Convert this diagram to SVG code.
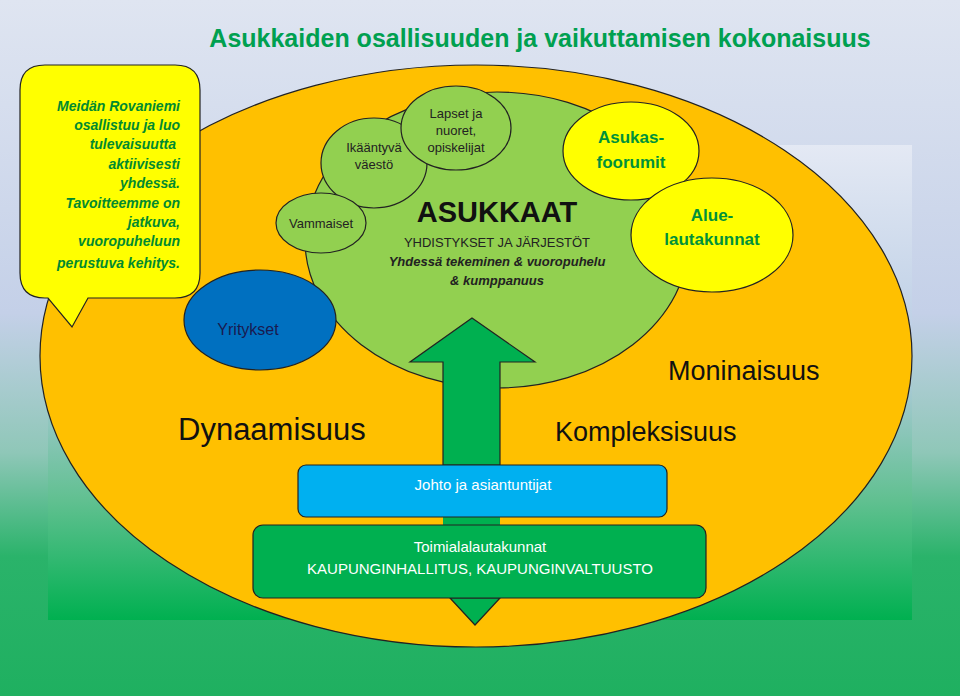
<svg xmlns="http://www.w3.org/2000/svg" width="960" height="696" viewBox="0 0 960 696">
<defs>
<linearGradient id="bg" x1="0" y1="0" x2="0" y2="1"><stop offset="0" stop-color="#dfe5f1"/><stop offset="0.45" stop-color="#c4d0e8"/><stop offset="0.65" stop-color="#8fc7b8"/><stop offset="0.8" stop-color="#2ab36a"/><stop offset="1" stop-color="#1fb060"/></linearGradient>
<linearGradient id="in" x1="0" y1="0" x2="0" y2="1"><stop offset="0" stop-color="#e4e9f4"/><stop offset="0.45" stop-color="#b8cce4"/><stop offset="0.75" stop-color="#60c090"/><stop offset="1" stop-color="#00b050"/></linearGradient>
<style>
text{font-family:"Liberation Sans",Arial,sans-serif}
.e{stroke:#222;stroke-width:1.2}
.lg{fill:#92d050}
.yl{fill:#ffff00}
.sm{font-size:13px;fill:#222;text-anchor:middle}
.yt{font-size:17px;font-weight:bold;fill:#00913a;text-anchor:middle}
.cl{font-size:14px;font-weight:bold;font-style:italic;fill:#008a30;text-anchor:end}
.big{fill:#111}
</style>
</defs>
<rect width="960" height="696" fill="url(#bg)"/>
<rect x="48" y="145" width="864" height="475" fill="url(#in)"/>
<text x="540" y="47" font-size="25" font-weight="bold" fill="#00a050" text-anchor="middle">Asukkaiden osallisuuden ja vaikuttamisen kokonaisuus</text>
<g id="outer"><ellipse cx="476" cy="356" rx="436" ry="291" fill="#ffc000" class="e"/></g>
<g id="asukkaat"><ellipse cx="497" cy="240" rx="192" ry="148" class="e lg"/>
<text x="497" y="222" font-size="29" font-weight="900" fill="#111" text-anchor="middle" font-family="DejaVu Sans">ASUKKAAT</text>
<text x="497" y="247" class="sm">YHDISTYKSET JA JÄRJESTÖT</text>
<text x="497" y="266" class="sm" font-weight="bold" font-style="italic">Yhdessä tekeminen &amp; vuoropuhelu</text>
<text x="497" y="285" class="sm" font-weight="bold" font-style="italic">&amp; kumppanuus</text></g>
<g id="connectors">
<path d="M472,318 L535,362 L500,362 L500,465 L443,465 L443,362 L410,362 Z" fill="#00b050" class="e"/>
<rect x="443" y="517" width="57" height="10" fill="#00b050"/>
<path d="M450,598 L500,598 L475,625 Z" fill="#00b050" class="e"/>
</g>
<g id="ikaantyva"><ellipse cx="374" cy="163" rx="53" ry="45" class="e lg"/><text x="374" y="152" class="sm">Ikääntyvä</text><text x="374" y="169" class="sm">väestö</text></g>
<g id="lapset"><ellipse cx="456" cy="128" rx="55" ry="42" class="e lg"/><text x="456" y="118" class="sm">Lapset ja</text><text x="456" y="135" class="sm">nuoret,</text><text x="456" y="152" class="sm">opiskelijat</text></g>
<g id="vammaiset"><ellipse cx="321" cy="223" rx="45" ry="30" class="e lg"/><text x="321" y="228" class="sm">Vammaiset</text></g>
<g id="yritykset"><ellipse cx="260" cy="320" rx="76" ry="50" fill="#0070c0" class="e"/><text x="248" y="335" font-size="16" fill="#1a1a50" text-anchor="middle">Yritykset</text></g>
<g id="foorumit"><ellipse cx="631" cy="151" rx="68" ry="49" class="e yl"/><text x="631" y="143" class="yt">Asukas-</text><text x="631" y="168" class="yt">foorumit</text></g>
<g id="alue"><ellipse cx="712" cy="235" rx="81" ry="57" class="e yl"/><text x="712" y="221" class="yt">Alue-</text><text x="712" y="245" class="yt">lautakunnat</text></g>
<g id="callout"><path d="M45,65 H175 Q200,65 200,90 V273 Q200,298 175,298 H88 L72,327 L48,298 H45 Q20,298 20,273 V90 Q20,65 45,65 Z" class="e yl"/>
<text class="cl"><tspan x="180" y="111">Meidän Rovaniemi</tspan><tspan x="180" y="130">osallistuu ja luo</tspan><tspan x="176" y="149">tulevaisuutta</tspan><tspan x="180" y="169">aktiivisesti</tspan><tspan x="180" y="188">yhdessä.</tspan><tspan x="180" y="208">Tavoitteemme on</tspan><tspan x="180" y="227">jatkuva,</tspan><tspan x="180" y="246">vuoropuheluun</tspan><tspan x="180" y="268">perustuva kehitys.</tspan></text></g>
<text x="178" y="440" font-size="31" class="big">Dynaamisuus</text>
<text x="555" y="441" font-size="27" class="big">Kompleksisuus</text>
<text x="668" y="380" font-size="27" class="big">Moninaisuus</text>
<g id="johto"><rect x="298" y="465" width="369" height="52" rx="8" fill="#00b0f0" class="e"/><text x="483" y="490" font-size="15" fill="#fff" text-anchor="middle">Johto ja asiantuntijat</text></g>
<g id="toimiala"><rect x="253" y="525" width="453" height="73" rx="10" fill="#00b050" class="e"/><text x="480" y="552" font-size="15" fill="#fff" text-anchor="middle">Toimialalautakunnat</text><text x="480" y="574" font-size="15" fill="#fff" text-anchor="middle">KAUPUNGINHALLITUS, KAUPUNGINVALTUUSTO</text></g>
</svg>
